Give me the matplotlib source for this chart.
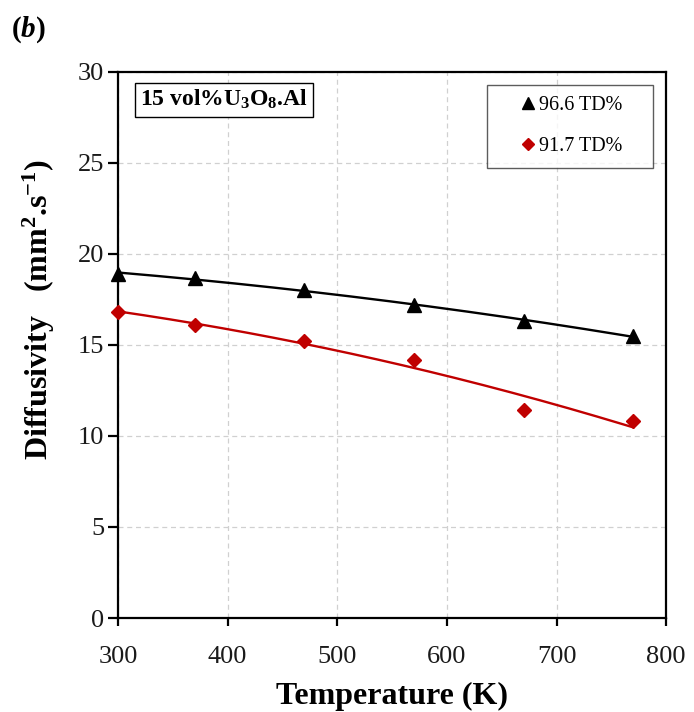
import numpy as np
import matplotlib
matplotlib.use('Agg')
import matplotlib.pyplot as plt

plt.rcParams['font.family'] = 'Liberation Serif'
plt.rcParams['mathtext.default'] = 'regular'
plt.rcParams['mathtext.fontset'] = 'custom'
plt.rcParams['mathtext.it'] = 'Liberation Serif:italic:bold'

# ── 측정 데이터 ─────────────────────────────────────────
temp_k = [300, 370, 470, 570, 670, 770]
diff_966 = [18.9, 18.7, 18.0, 17.2, 16.3, 15.5]
diff_917 = [16.8, 16.1, 15.2, 14.2, 11.4, 10.8]
series_labels = ['96.6 TD%', '91.7 TD%']

C_BLK = '#000000'
C_RED = '#C00000'
C_GRID = '#D0D0D0'

fig = plt.figure(figsize=(6.94, 7.12), dpi=100)
ax = fig.add_axes([0.170, 0.132, 0.790, 0.767])

# 2차 다항식 추세선
t_fit = np.linspace(temp_k[0], temp_k[-1], 200)
for y, c in [(diff_966, C_BLK), (diff_917, C_RED)]:
    p = np.polyfit(temp_k, y, 2)
    ax.plot(t_fit, np.polyval(p, t_fit), color=c, lw=1.7, zorder=3)

ax.plot(temp_k, diff_966, ls='none', marker='^', ms=10, color=C_BLK,
        label=series_labels[0] + '    ', zorder=4, clip_on=False)
ax.plot(temp_k, diff_917, ls='none', marker='D', ms=7.5, color=C_RED,
        label=series_labels[1] + '    ', zorder=4, clip_on=False)

ax.set_xlim(300, 800)
ax.set_ylim(0, 30)
ax.set_xticks(range(300, 801, 100))
ax.set_yticks(range(0, 31, 5))
ax.grid(True, color=C_GRID, ls=(0, (4, 3)), lw=0.9)
ax.set_axisbelow(True)

for s in ax.spines.values():
    s.set_linewidth(1.6)
    s.set_color(C_BLK)
ax.tick_params(direction='out', length=6, width=1.6, labelsize=19,
               colors=C_BLK, labelcolor='#1a1a1a')
ax.tick_params(axis='x', pad=14)
ax.tick_params(axis='y', length=7, pad=3)

ax.set_xlabel('Temperature (K)', fontsize=23, fontweight='bold', labelpad=10)
ax.set_ylabel('Diffusivity   (mm$^{2}$.s$^{-1}$)', fontsize=23,
              fontweight='bold')
ax.yaxis.set_label_coords(-0.111, 0.565)

ax.text(0.040, 0.949, '15 vol%U$_3$O$_8$.Al', transform=ax.transAxes,
        fontsize=17, fontweight='bold', ha='left', va='center',
        bbox=dict(boxstyle='square,pad=0.22', fc='white', ec=C_BLK, lw=1.0))

leg = ax.legend(loc='upper right', bbox_to_anchor=(0.976, 0.976),
                fontsize=14.5, frameon=True, fancybox=False, edgecolor='#333333',
                handlelength=2.9, handletextpad=-0.9, borderpad=0.55,
                labelspacing=1.1, borderaxespad=0, markerscale=0.8)
leg.get_frame().set_linewidth(1.0)

fig.text(0.016, 0.958, '($\\it{b}$)', fontsize=21, fontweight='bold',
         ha='left', va='center')

fig.savefig('out.png', dpi=100, facecolor='white')
